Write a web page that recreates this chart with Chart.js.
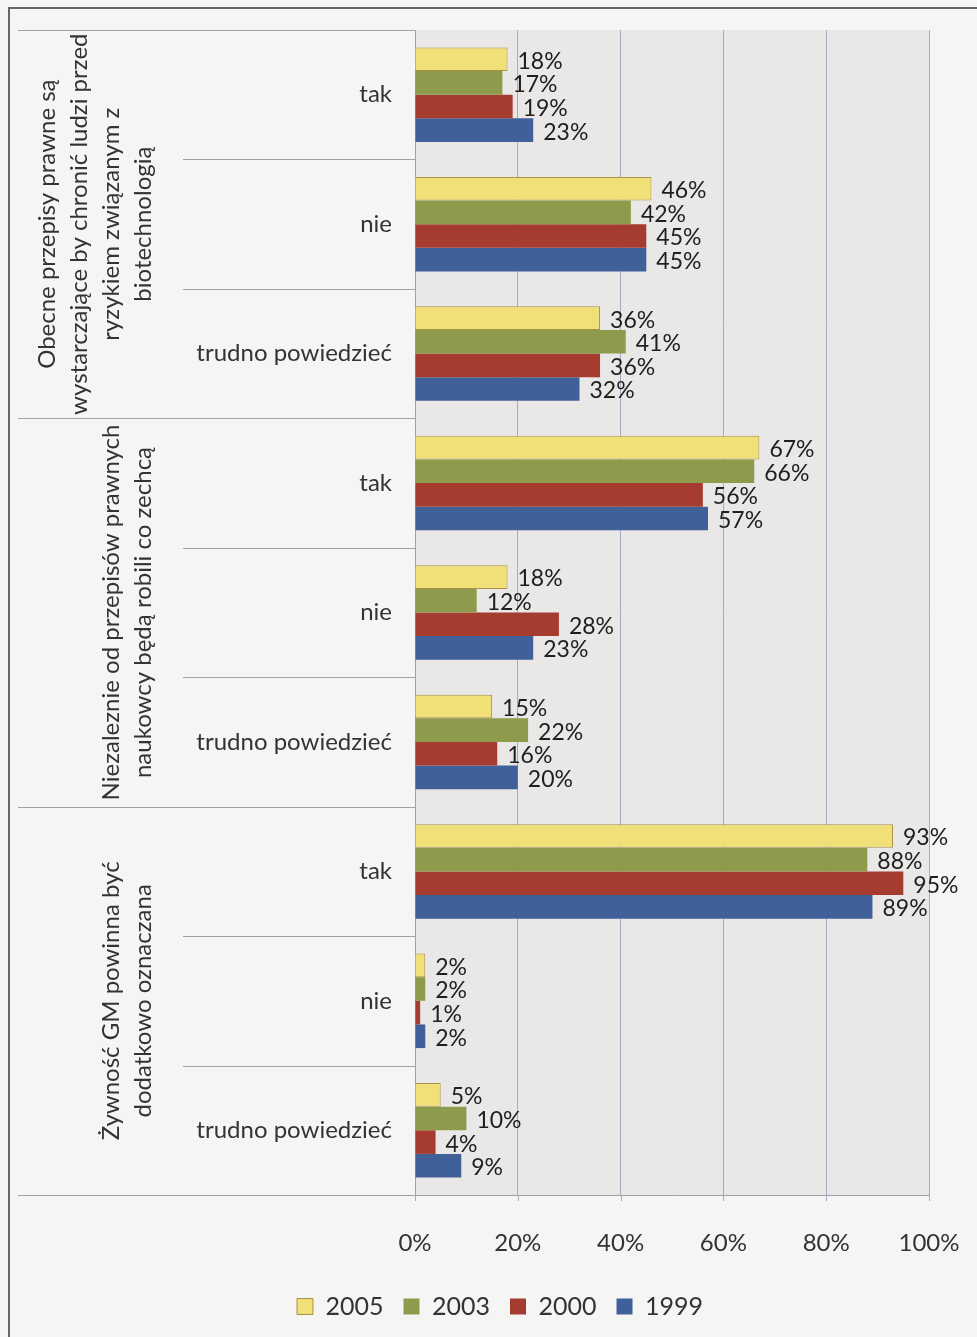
<!DOCTYPE html>
<html>
<head>
<meta charset="utf-8">
<script src="https://cdn.jsdelivr.net/npm/chart.js@4"></script>
<style>
  html, body { margin: 0; padding: 0; background: #f4f4f2; }
  #wrap { width: 977px; height: 1337px; }
</style>
</head>
<body>
<div id="wrap"><canvas id="gmChart" width="977" height="1337"></canvas></div>
<script>
// odpowiedzi w każdym pytaniu
const odpowiedzi = ["tak", "nie", "trudno powiedzieć",
                    "tak", "nie", "trudno powiedzieć",
                    "tak", "nie", "trudno powiedzieć"];

// pytania (etykiety grup, po linii)
const pytania = [
    ["Obecne przepisy prawne są", "wystarczające by chronić ludzi przed", "ryzykiem związanym z", "biotechnologią"],
    ["Niezaleznie od przepisów prawnych", "naukowcy będą robili co zechcą"],
    ["Żywność GM powinna być", "dodatkowo oznaczana"]
];

// wyniki w procentach
const lata = ["2005", "2003", "2000", "1999"];
const wyniki2005 = [18, 46, 36, 67, 18, 15, 93, 2, 5];
const wyniki2003 = [17, 42, 41, 66, 12, 22, 88, 2, 10];
const wyniki2000 = [19, 45, 36, 56, 28, 16, 95, 1, 4];
const wyniki1999 = [23, 45, 32, 57, 23, 20, 89, 2, 9];

const osX = [0, 20, 40, 60, 80, 100];

const FONT = "Lato, 'Open Sans', sans-serif";
const LEWY = 71; // margines, żeby legenda stała pod słupkami
const SIATKA = "#aca8c4";

// tło, ramka, podziały grup, podpisy pytań i wartości
const dodatki = {
    id: "dodatki",
    beforeDraw(chart) {
        const { ctx, chartArea: a } = chart;
        ctx.save();
        ctx.fillStyle = "#f5f5f3";
        ctx.fillRect(0, 0, chart.width, chart.height);
        ctx.fillStyle = "#e9e8e7";
        ctx.fillRect(a.left, a.top, a.right - a.left, a.bottom - a.top);
        ctx.restore();
    },
    afterDraw(chart) {
        const { ctx, chartArea: a } = chart;
        const x = chart.scales.x;
        const y = chart.scales.y;
        const n = odpowiedzi.length;
        const rowH = (a.bottom - a.top) / n;
        ctx.save();

        // krótkie kreski pod osią X
        ctx.strokeStyle = SIATKA;
        ctx.lineWidth = 1;
        osX.forEach(v => {
            const px = Math.round(x.getPixelForValue(v)) + 0.5;
            ctx.beginPath();
            ctx.moveTo(px, a.bottom);
            ctx.lineTo(px, a.bottom + 6);
            ctx.stroke();
        });

        // linie podziału w obszarze etykiet
        ctx.strokeStyle = "#a2a2a2";
        for (let k = 0; k <= n; k++) {
            const py = Math.round(y.getPixelForValue(0) - rowH / 2 + k * rowH) + 0.5;
            const x0 = (k % 3 === 0) ? 18 : 183;
            ctx.beginPath();
            ctx.moveTo(x0, py);
            ctx.lineTo(a.left, py);
            ctx.stroke();
        }

        // pytania, obrócone
        ctx.fillStyle = "#333";
        ctx.font = "24px " + FONT;
        ctx.textAlign = "center";
        ctx.textBaseline = "middle";
        pytania.forEach((linie, g) => {
            const cy = (y.getPixelForValue(g * 3) + y.getPixelForValue(g * 3 + 2)) / 2;
            linie.forEach((t, i) => {
                const cx = 143 - (linie.length - 1 - i) * 32;
                ctx.save();
                ctx.translate(cx, cy);
                ctx.rotate(-Math.PI / 2);
                ctx.fillText(t, 0, 0);
                ctx.restore();
            });
        });

        // wartości przy słupkach
        ctx.fillStyle = "#1e1e1e";
        ctx.font = "23px " + FONT;
        ctx.textAlign = "left";
        chart.data.datasets.forEach((ds, di) => {
            chart.getDatasetMeta(di).data.forEach((bar, i) => {
                ctx.fillText(ds.data[i] + "%", bar.x + 10, bar.y + 2);
            });
        });

        // ramka
        ctx.strokeStyle = "#666";
        ctx.lineWidth = 2;
        ctx.beginPath();
        ctx.moveTo(9, chart.height);
        ctx.lineTo(9, 8);
        ctx.lineTo(chart.width, 8);
        ctx.stroke();
        ctx.restore();
    }
};

new Chart(document.getElementById("gmChart"), {
    type: "bar",
    data: {
        labels: odpowiedzi,
        datasets: [
            { label: lata[0], data: wyniki2005, backgroundColor: "#f1df78", borderColor: "#a8924a", borderWidth: 1 },
            { label: lata[1], data: wyniki2003, backgroundColor: "#8e9a4c", borderColor: "#8e9a4c", borderWidth: 0 },
            { label: lata[2], data: wyniki2000, backgroundColor: "#a63b30", borderColor: "#a63b30", borderWidth: 0 },
            { label: lata[3], data: wyniki1999, backgroundColor: "#40609a", borderColor: "#40609a", borderWidth: 0 }
        ]
    },
    options: {
        indexAxis: "y",
        responsive: false,
        animation: false,
        categoryPercentage: 0.73,
        barPercentage: 1,
        layout: { autoPadding: false, padding: { top: 30, right: 48, left: LEWY, bottom: 8 } },
        scales: {
            x: {
                min: 0,
                max: 100,
                afterBuildTicks(scale) {
                    scale.ticks = osX.map(v => ({ value: v }));
                },
                afterFit(scale) { scale.height = 79; },
                grid: { color: SIATKA, tickLength: 31, tickColor: "rgba(0,0,0,0)" },
                border: { color: "#a0a0a8" },
                ticks: {
                    padding: 3,
                    color: "#333",
                    font: { family: FONT, size: 24 },
                    callback: v => v + "%"
                }
            },
            y: {
                afterFit(scale) { scale.width = 415 - LEWY; },
                grid: { display: false },
                border: { color: "#a0a0a8" },
                ticks: {
                    padding: 15,
                    color: "#333",
                    font: { family: FONT, size: 24 }
                }
            }
        },
        plugins: {
            legend: {
                position: "bottom",
                labels: {
                    boxWidth: 16,
                    boxHeight: 16,
                    padding: 20,
                    color: "#333",
                    font: { family: FONT, size: 25 }
                }
            },
            tooltip: { enabled: false }
        }
    },
    plugins: [dodatki]
});
</script>
</body>
</html>
